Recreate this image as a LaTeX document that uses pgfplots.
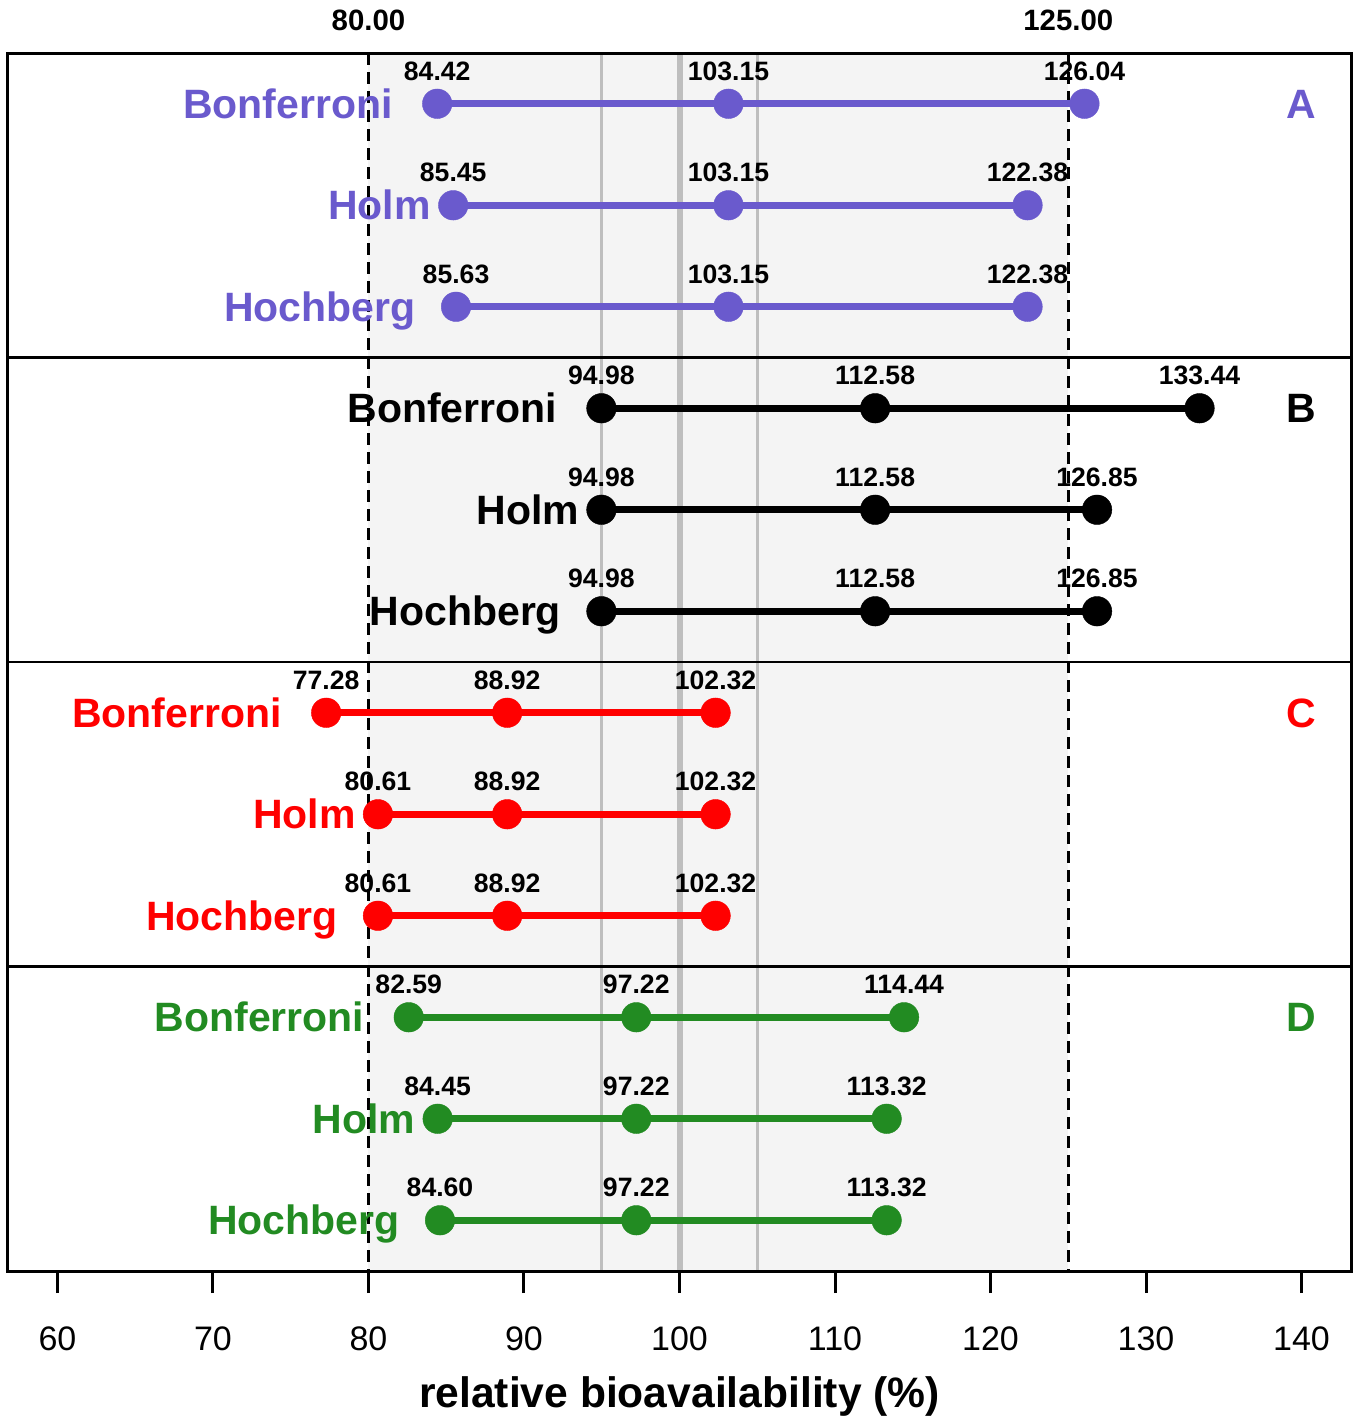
\documentclass[border=0pt]{standalone}
\usepackage{fontspec}
\setmainfont{Liberation Sans}
\usepackage{pgfplots}
\pgfplotsset{compat=1.18}
\definecolor{cA}{HTML}{6A5ACD}
\definecolor{cB}{HTML}{000000}
\definecolor{cC}{HTML}{FF0000}
\definecolor{cD}{HTML}{228B22}
\definecolor{bgshade}{HTML}{F4F4F4}
\definecolor{gline}{HTML}{BEBEBE}
\newcommand{\mfont}{\bfseries\fontsize{20.5}{22}\selectfont}
\newcommand{\meth}[5]{% color, x, y, gap, text
  \node[anchor=base east, xshift=-#4, yshift=-7.3pt, text=#1, font=\mfont, inner sep=0pt] at (axis cs:#2,#3) {#5};}
\begin{document}
\begin{tikzpicture}
\useasboundingbox (0,0) rectangle (677.5pt,713pt);
\begin{axis}[
  at={(4pt,77.5pt)}, anchor=south west,
  width=671.5pt, height=609pt, scale only axis,
  xmin=56.82, xmax=143.18, ymin=0, ymax=12, y dir=reverse,
  ytick=\empty, xtick={60,70,...,140},
  tick align=outside, xtick pos=left, major tick length=11pt,
  tick style={line width=1.5pt, black},
  axis line style={line width=1.5pt},
  clip=false, axis on top,
  /pgf/number format/assume math mode=true,
  xticklabel style={font=\fontsize{17}{18}\selectfont, yshift=-13.5pt},
  xlabel={relative bioavailability (\%)},
  xlabel style={font=\bfseries\fontsize{21.3}{23}\selectfont, at={(axis description cs:0.5,0)}, anchor=base, yshift=-68.1pt},
  point meta=explicit symbolic,
  nodes near coords,
  every node near coord/.append style={font=\bfseries\fontsize{13.3}{14}\selectfont, text=black, anchor=base, yshift=11.7pt, inner sep=0pt},
  every axis plot/.append style={line width=3.5pt, mark=*, mark size=7.4pt, mark options={line width=0.2pt}},
]
% background
\fill[bgshade] (axis cs:80,0) rectangle (axis cs:125,12);
\draw[gline, line width=1.5pt] (axis cs:95,0) -- (axis cs:95,12);
\draw[gline, line width=1.5pt] (axis cs:105,0) -- (axis cs:105,12);
\draw[gline, line width=3pt] (axis cs:100,0) -- (axis cs:100,12);
\draw[black, line width=1.5pt, dash pattern=on 6pt off 3.5pt] (axis cs:80,0) -- (axis cs:80,12);
\draw[black, line width=1.5pt, dash pattern=on 6pt off 3.5pt] (axis cs:125,0) -- (axis cs:125,12);
\draw[black, line width=1.25pt] (axis cs:56.82,3) -- (axis cs:143.18,3);
\draw[black, line width=1.25pt] (axis cs:56.82,6) -- (axis cs:143.18,6);
\draw[black, line width=1.25pt] (axis cs:56.82,9) -- (axis cs:143.18,9);
\node[anchor=base, yshift=11.2pt, font=\bfseries\fontsize{14.7}{16}\selectfont, inner sep=0pt] at (axis cs:80,0) {80.00};
\node[anchor=base, yshift=11.2pt, font=\bfseries\fontsize{14.7}{16}\selectfont, inner sep=0pt] at (axis cs:125,0) {125.00};

% Panel A
\addplot[cA] coordinates {(84.42,0.5)[84.42] (103.15,0.5)[103.15] (126.04,0.5)[126.04]};
\addplot[cA] coordinates {(85.45,1.5)[85.45] (103.15,1.5)[103.15] (122.38,1.5)[122.38]};
\addplot[cA] coordinates {(85.63,2.5)[85.63] (103.15,2.5)[103.15] (122.38,2.5)[122.38]};
% Panel B
\addplot[cB] coordinates {(94.98,3.5)[94.98] (112.58,3.5)[112.58] (133.44,3.5)[133.44]};
\addplot[cB] coordinates {(94.98,4.5)[94.98] (112.58,4.5)[112.58] (126.85,4.5)[126.85]};
\addplot[cB] coordinates {(94.98,5.5)[94.98] (112.58,5.5)[112.58] (126.85,5.5)[126.85]};
% Panel C
\addplot[cC] coordinates {(77.28,6.5)[77.28] (88.92,6.5)[88.92] (102.32,6.5)[102.32]};
\addplot[cC] coordinates {(80.61,7.5)[80.61] (88.92,7.5)[88.92] (102.32,7.5)[102.32]};
\addplot[cC] coordinates {(80.61,8.5)[80.61] (88.92,8.5)[88.92] (102.32,8.5)[102.32]};
% Panel D
\addplot[cD] coordinates {(82.59,9.5)[82.59] (97.22,9.5)[97.22] (114.44,9.5)[114.44]};
\addplot[cD] coordinates {(84.45,10.5)[84.45] (97.22,10.5)[97.22] (113.32,10.5)[113.32]};
\addplot[cD] coordinates {(84.60,11.5)[84.60] (97.22,11.5)[97.22] (113.32,11.5)[113.32]};

% method labels
\meth{cA}{84.42}{0.5}{22pt}{Bonferroni}
\meth{cA}{85.45}{1.5}{11pt}{Holm}
\meth{cA}{85.63}{2.5}{20pt}{Hochberg}
\meth{cB}{94.98}{3.5}{22pt}{Bonferroni}
\meth{cB}{94.98}{4.5}{11pt}{Holm}
\meth{cB}{94.98}{5.5}{20pt}{Hochberg}
\meth{cC}{77.28}{6.5}{22pt}{Bonferroni}
\meth{cC}{80.61}{7.5}{11pt}{Holm}
\meth{cC}{80.61}{8.5}{20pt}{Hochberg}
\meth{cD}{82.59}{9.5}{22pt}{Bonferroni}
\meth{cD}{84.45}{10.5}{11pt}{Holm}
\meth{cD}{84.60}{11.5}{20pt}{Hochberg}

% panel letters
\node[anchor=base, yshift=-7.3pt, text=cA, font=\mfont, inner sep=0pt] at (axis cs:140,0.5) {A};
\node[anchor=base, yshift=-7.3pt, text=cB, font=\mfont, inner sep=0pt] at (axis cs:140,3.5) {B};
\node[anchor=base, yshift=-7.3pt, text=cC, font=\mfont, inner sep=0pt] at (axis cs:140,6.5) {C};
\node[anchor=base, yshift=-7.3pt, text=cD, font=\mfont, inner sep=0pt] at (axis cs:140,9.5) {D};
\end{axis}
\end{tikzpicture}
\end{document}
